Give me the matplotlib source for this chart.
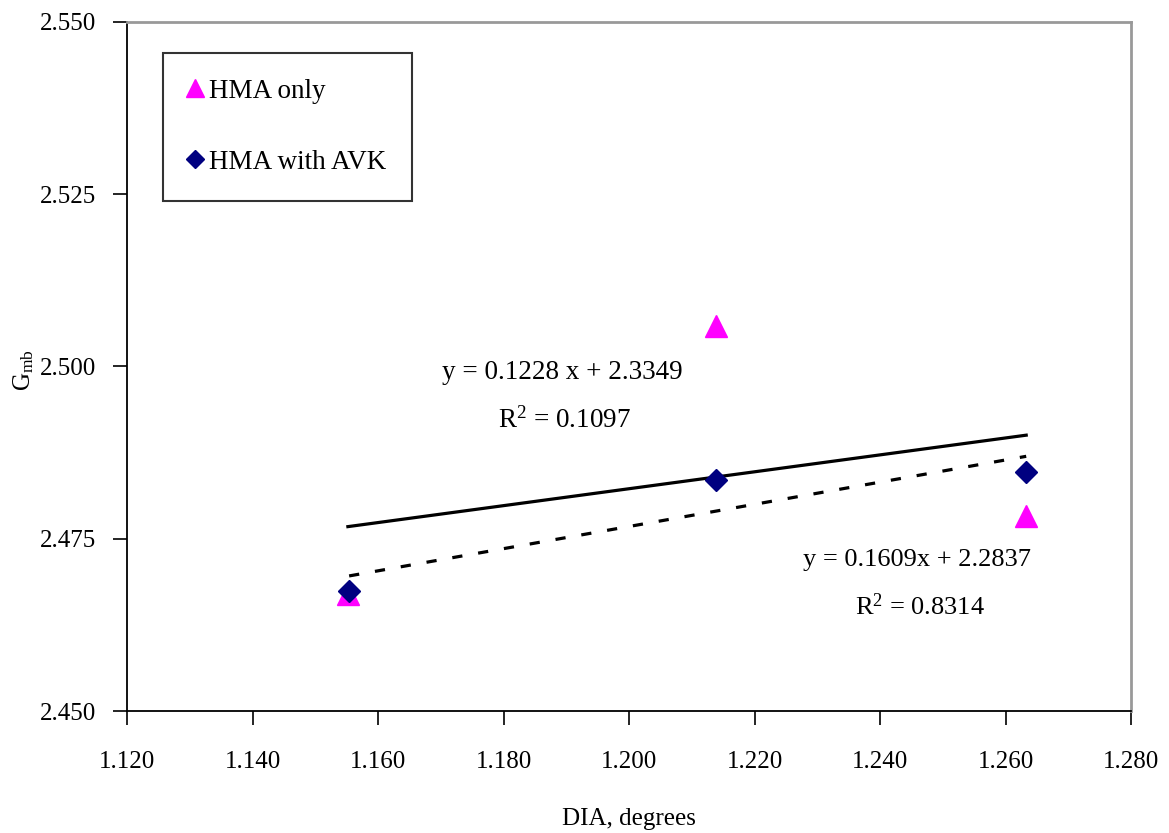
import matplotlib
matplotlib.use("Agg")
import numpy as np
import matplotlib.pyplot as plt
from matplotlib.ticker import FormatStrFormatter, MultipleLocator

plt.rcParams["font.family"] = ["Liberation Serif", "DejaVu Serif"]
plt.rcParams["mathtext.fontset"] = "custom"
plt.rcParams["mathtext.rm"] = "Liberation Serif"
plt.rcParams["mathtext.it"] = "Liberation Serif"

# datos
dia_hma = [1.1552, 1.2139, 1.2633]
gmb_hma = [2.4670, 2.5059, 2.4783]

dia_avk = [1.1554, 1.2139, 1.2633]
gmb_avk = [2.4674, 2.4835, 2.4847]

# lineas de tendencia (de las ecuaciones del grafico)
slope_hma, icpt_hma, r2_hma = 0.1228, 2.3349, 0.1097
slope_avk, icpt_avk, r2_avk = 0.1609, 2.2837, 0.8314

fig = plt.figure(figsize=(11.69, 8.33), dpi=100)
ax = fig.add_axes([127 / 1169, 1 - 711 / 833, 1004 / 1169, 689 / 833])

# tendencias
xs = np.array([min(dia_hma), max(dia_hma)])
ax.plot(xs, slope_hma * xs + icpt_hma, color="black", lw=2.3, zorder=2)
xs2 = np.array([min(dia_avk), max(dia_avk)])
ax.plot(xs2, slope_avk * xs2 + icpt_avk, color="black", lw=2.3,
        dashes=(3.2, 5), zorder=2)

ax.plot(dia_hma, gmb_hma, ls="none", marker="^", ms=16, color="#ff00ff",
        label="HMA only", zorder=3)
ax.plot(dia_avk, gmb_avk, ls="none", marker="D", ms=11, color="#000080",
        label="HMA with AVK", zorder=4)

ax.set_xlim(1.120, 1.280)
ax.set_ylim(2.450, 2.550)
ax.xaxis.set_major_locator(MultipleLocator(0.02))
ax.yaxis.set_major_locator(MultipleLocator(0.025))
ax.xaxis.set_major_formatter(FormatStrFormatter("%.3f"))
ax.yaxis.set_major_formatter(FormatStrFormatter("%.3f"))
ax.tick_params(axis="x", direction="out", length=10, width=1.2, pad=19,
               labelsize=18)
ax.tick_params(axis="y", direction="out", length=10, width=1.2, pad=12,
               labelsize=18)

for s in ["left", "bottom"]:
    ax.spines[s].set_color("black")
    ax.spines[s].set_linewidth(1.3)
for s in ["top", "right"]:
    ax.spines[s].set_color("#999999")
    ax.spines[s].set_linewidth(2)

ax.set_xlabel("DIA, degrees", fontsize=18, labelpad=25)
fig.text(24 / 1169, 1 - 370 / 833, "G$_{\\mathrm{mb}}$", rotation=90,
         ha="center", va="center", fontsize=18)

ax.text(0.434, 0.4906, f"y = {slope_hma:.4f} x + {icpt_hma:.4f}",
        transform=ax.transAxes, ha="center", va="center", fontsize=19.5)
ax.text(0.436, 0.4224, f"R$^2$ = {r2_hma:.4f}",
        transform=ax.transAxes, ha="center", va="center", fontsize=19.5)
ax.text(0.787, 0.219, f"y = {slope_avk:.4f}x + {icpt_avk:.4f}",
        transform=ax.transAxes, ha="center", va="center", fontsize=19)
ax.text(0.790, 0.151, f"R$^2$ = {r2_avk:.4f}",
        transform=ax.transAxes, ha="center", va="center", fontsize=19)

leg = ax.legend(loc="upper left", bbox_to_anchor=(163 / 1169, 1 - 53 / 833),
                bbox_transform=fig.transFigure, borderaxespad=0,
                fontsize=19.5, frameon=True, fancybox=False, shadow=False,
                labelspacing=1.7, handlelength=0.45, handletextpad=0.3,
                borderpad=0.95, markerscale=0.8)
leg.get_frame().set_edgecolor("black")
leg.get_frame().set_linewidth(1.5)

fig.savefig("out.png", dpi=100)
